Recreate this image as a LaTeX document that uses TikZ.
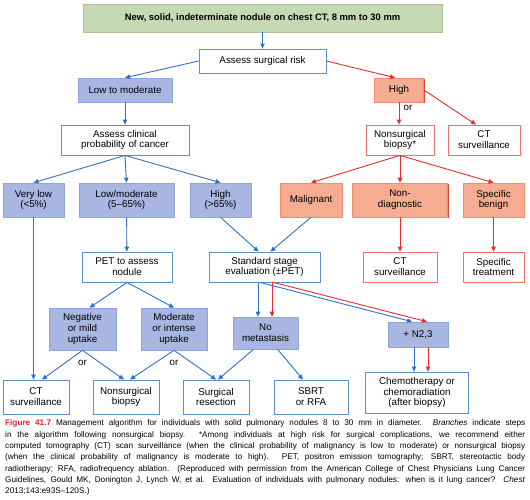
\documentclass[tikz,border=0pt]{standalone}
\usepackage{fontspec}
\setmainfont{Liberation Sans}
\usetikzlibrary{arrows.meta,shadows}

\definecolor{bluefill}{HTML}{A7B7E2}
\definecolor{blueedge}{HTML}{8FA4DA}
\definecolor{blueshade}{HTML}{5174BC}
\definecolor{blueline}{HTML}{2E74C4}
\definecolor{blueframe}{HTML}{5B91D2}
\definecolor{redfill}{HTML}{F7AB90}
\definecolor{rededge}{HTML}{F08C74}
\definecolor{redshade}{HTML}{E0463A}
\definecolor{redline}{HTML}{EE2B2B}
\definecolor{redframe}{HTML}{F07070}
\definecolor{greenfill}{HTML}{C5D9B4}
\definecolor{greenedge}{HTML}{A8C496}
\definecolor{greenshade}{HTML}{7FA46A}
\definecolor{figred}{HTML}{E8262A}

\tikzset{
  box/.style={rectangle, inner sep=1pt, align=center,
    font=\fontsize{9.8}{10.8}\selectfont},
  sz/.style 2 args={minimum width=#1pt, minimum height=#2pt},
  wbbox/.style={box, draw=blueframe, fill=white, line width=0.8pt},
  wrbox/.style={box, draw=redframe, fill=white, line width=0.8pt},
  bbox/.style={box, draw=blueedge, fill=bluefill, line width=0.6pt,
    general shadow={fill=blueshade, shadow xshift=1pt, shadow yshift=-1pt}},
  rbox/.style={box, draw=rededge, fill=redfill, line width=0.6pt,
    general shadow={fill=redshade, shadow xshift=1pt, shadow yshift=-1pt}},
  gbox/.style={box, draw=greenedge, fill=greenfill, line width=0.6pt,
    font=\fontsize{9.4}{10.8}\selectfont\bfseries,
    general shadow={fill=greenshade, shadow xshift=1.2pt, shadow yshift=-1.2pt}},
  ortext/.style={inner sep=0pt, font=\fontsize{9.8}{10.8}\selectfont},
  tip/.style={-{Triangle[length=5pt,width=4.5pt]}, line width=0.9pt},
  caption/.style={inner sep=0pt, text width=520pt, align=justify,
    font=\fontsize{8.2}{11.35}\selectfont}
}

\begin{document}
\begin{tikzpicture}[x=1pt,y=-1pt]
  \useasboundingbox[fill=white] (0,0) rectangle (530,499);

  % top of the tree
  \node[gbox, sz={359}{28}] (top) at (262.5,18)
    {New, solid, indeterminate nodule on chest CT, 8 mm to 30 mm};
  \node[wbbox, sz={127}{24}] (risk) at (262.5,61) {Assess surgical risk};

  % low to moderate risk branch
  \begin{scope}[every node/.style={bbox}]
    \node[sz={94}{24}] (lowmod) at (125,90)  {Low to moderate};
    \node[sz={61}{34}] (vlow)   at (33.5,200) {Very low\\(<5\%)};
    \node[sz={95}{34}] (lmod)   at (126.5,200) {Low/moderate\\(5–65\%)};
    \node[sz={61}{34}] (hi)     at (220.5,200) {High\\(>65\%)};
    \node[sz={67}{42}] (neg)    at (82.5,329) {Negative\\or mild\\uptake};
    \node[sz={66}{42}] (mod)    at (174,329)  {Moderate\\or intense\\uptake};
    \node[sz={65}{32}] (nomet)  at (265.5,333) {No\\metastasis};
    \node[sz={60}{25}] (n23)    at (418,334.5) {+ N2,3};
  \end{scope}

  \begin{scope}[every node/.style={wbbox}]
    \node[sz={128}{30}] (clin)  at (125,140)   {Assess clinical\\probability of cancer};
    \node[sz={90}{30}]  (pet)   at (127,267)   {PET to assess\\nodule};
    \node[sz={111}{30}] (std)   at (264.5,267) {Standard stage\\evaluation (±PET)};
    \node[sz={66}{34}]  (ct1)   at (36,397)    {CT\\surveillance};
    \node[sz={66}{34}]  (nsb2)  at (126,397)   {Nonsurgical\\biopsy};
    \node[sz={66}{34}]  (sres)  at (216,397)   {Surgical\\resection};
    \node[sz={74}{34}]  (sbrt)  at (311,397)   {SBRT\\or RFA};
    \node[sz={103}{41}] (chemo) at (417,392.5) {Chemotherapy or\\chemoradiation\\(after biopsy)};
  \end{scope}

  % high risk branch
  \begin{scope}[every node/.style={rbox}]
    \node[sz={49}{24}] (high) at (399,90)    {High};
    \node[sz={62}{34}] (mal)  at (311,200)   {Malignant};
    \node[sz={95}{34}] (nd)   at (400,200)   {Non-\\diagnostic};
    \node[sz={61}{34}] (sb)   at (493.5,200) {Specific\\benign};
  \end{scope}

  \begin{scope}[every node/.style={wrbox}]
    \node[sz={68}{30}] (nsb) at (400,140)   {Nonsurgical\\biopsy*};
    \node[sz={72}{30}] (ctr) at (484,140)   {CT\\surveillance};
    \node[sz={74}{30}] (ctm) at (400,267)   {CT\\surveillance};
    \node[sz={61}{30}] (st)  at (493.5,267) {Specific\\treatment};
  \end{scope}

  \node[ortext] (or1) at (408,108) {or};
  \node[ortext] (or2) at (82.5,363) {or};
  \node[ortext] (or3) at (174,363) {or};

  \begin{scope}[every edge/.style={draw=blueline, tip}]
    \path (top)   edge (risk);
    \path (risk.west) edge (lowmod.north);
    \path (lowmod) edge (clin);
    \path (clin.south) edge (vlow.north);
    \path (clin.south) edge (lmod.north);
    \path (clin.south) edge (hi.north);
    \path (vlow.south) edge (vlow.south |- ct1.north);
    \path (lmod) edge (pet);
    \path (pet.south) edge ([xshift=7pt]neg.north);
    \path (pet.south) edge (mod.north);
    \path (hi.south)  edge ([xshift=-6pt]std.north);
    \path (mal.south) edge ([xshift=6pt]std.north);
    \path ([xshift=-6.5pt]std.south) edge ([xshift=-7.5pt]nomet.north);
    \path ([xshift=-4.5pt]std.south) edge ([xshift=-6pt]n23.north);
    \path (neg.south) edge ([xshift=6pt]ct1.north);
    \path (neg.south) edge ([xshift=-2pt]nsb2.north);
    \path (mod.south) edge ([xshift=4pt]nsb2.north);
    \path (mod.south) edge (sres.north);
    \path ([xshift=-12pt]nomet.south) edge ([xshift=2pt]sres.north);
    \path ([xshift=12pt]nomet.south)  edge ([xshift=-8pt]sbrt.north);
    \path ([xshift=-4pt]n23.south) edge ([xshift=-4pt]n23.south |- chemo.north);
  \end{scope}

  \begin{scope}[every edge/.style={draw=redline, tip}]
    \path (risk.east) edge ([xshift=-4pt]high.north);
    \path (high.south) edge (high.south |- nsb.north);
    \path (high.east) edge ([xshift=-8pt]ctr.north);
    \path (nsb.south) edge (mal.north);
    \path (nsb.south) edge (nd.north);
    \path (nsb.south) edge (sb.north);
    \path (nd) edge (ctm);
    \path (sb) edge (st);
    \path ([xshift=7.5pt]std.south) edge ([xshift=6.5pt]nomet.north);
    \path ([xshift=9pt]std.south) edge ([xshift=9pt]n23.north);
    \path ([xshift=10pt]n23.south) edge ([xshift=10pt]n23.south |- chemo.north);
  \end{scope}

  % caption
  \node[caption, anchor=north west] (cap) at (5,419.5)
    {\textcolor{figred}{\textbf{Figure 41.7}} Management algorithm for individuals with solid pulmonary nodules 8 to 30 mm in diameter. \textit{Branches} indicate steps\linebreak
    in the algorithm following nonsurgical biopsy. *Among individuals at high risk for surgical complications, we recommend either\linebreak
    computed tomography (CT) scan surveillance (when the clinical probability of malignancy is low to moderate) or nonsurgical biopsy\linebreak
    (when the clinical probability of malignancy is moderate to high). PET, positron emission tomography; SBRT, stereotactic body\linebreak
    radiotherapy; RFA, radiofrequency ablation. (Reproduced with permission from the American College of Chest Physicians Lung Cancer\linebreak
    Guidelines, Gould MK, Donington J, Lynch W, et al. Evaluation of individuals with pulmonary nodules: when is it lung cancer? \textit{Chest}\linebreak
    2013;143:e93S–120S.)};
\end{tikzpicture}
\end{document}
